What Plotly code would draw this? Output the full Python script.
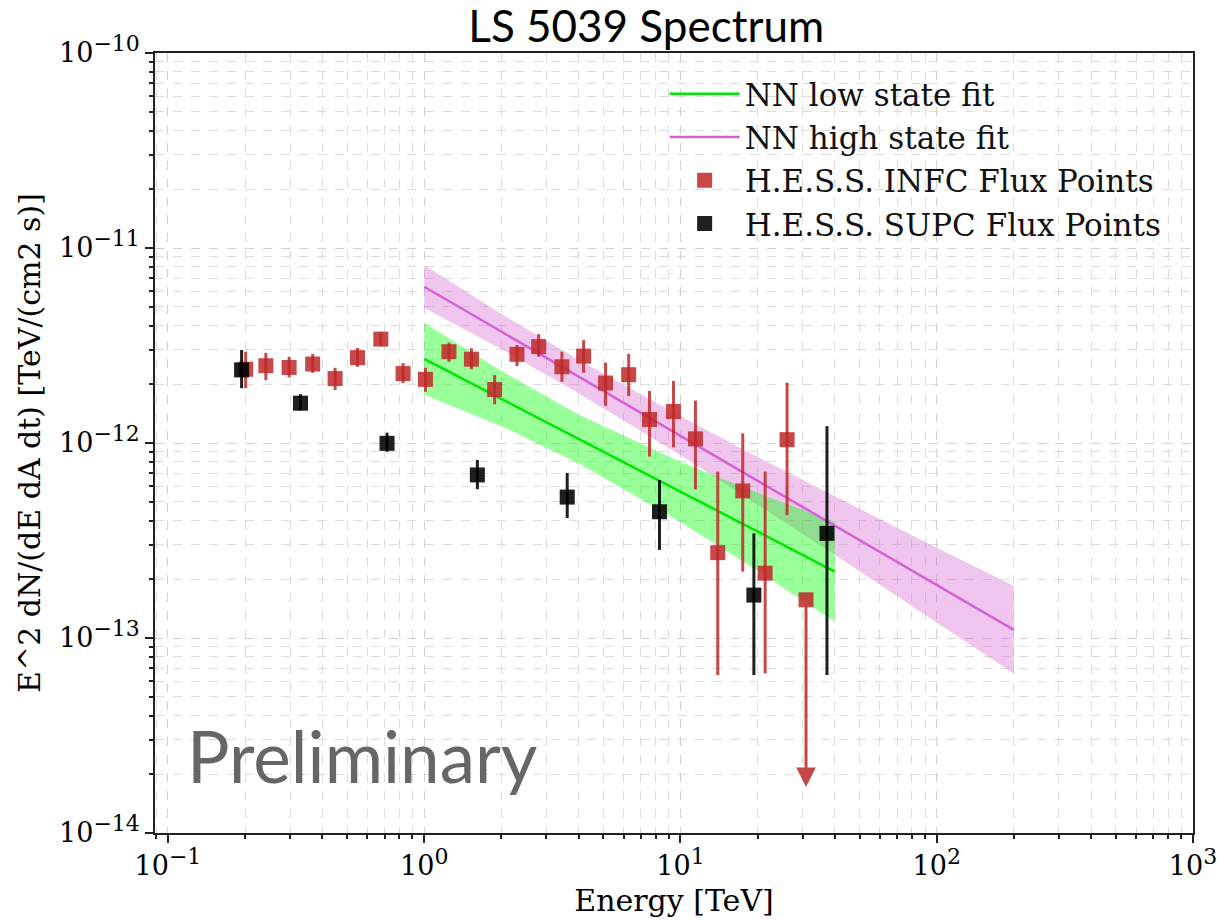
import numpy as np
import plotly.graph_objects as go

# ---------------- data ----------------
# H.E.S.S. INFC flux points (energy TeV, E^2 dN/dE, upper/lower error edges)
infc_E = [0.201, 0.241, 0.297, 0.367, 0.449, 0.549, 0.677, 0.827, 1.011, 1.249,
          1.528, 1.883, 2.301, 2.796, 3.446, 4.188, 5.10, 6.28, 7.57, 9.39,
          11.44, 13.98, 17.5, 21.4, 26.06]
infc_F = [2.39e-12, 2.49e-12, 2.44e-12, 2.54e-12, 2.14e-12, 2.74e-12, 3.41e-12, 2.27e-12,
          2.12e-12, 2.94e-12, 2.69e-12, 1.88e-12, 2.85e-12, 3.12e-12, 2.46e-12, 2.79e-12,
          2.03e-12, 2.24e-12, 1.32e-12, 1.45e-12, 1.05e-12, 2.74e-13, 5.68e-13, 2.15e-13,
          1.04e-12]
infc_hi = [2.94e-12, 2.90e-12, 2.77e-12, 2.86e-12, 2.43e-12, 3.07e-12, 3.68e-12, 2.57e-12,
           2.43e-12, 3.27e-12, 3.06e-12, 2.23e-12, 3.18e-12, 3.62e-12, 2.94e-12, 3.37e-12,
           2.58e-12, 2.86e-12, 1.85e-12, 2.08e-12, 1.65e-12, 7.13e-13, 1.12e-12, 7.13e-13,
           2.04e-12]
infc_lo = [1.91e-12, 2.10e-12, 2.17e-12, 2.29e-12, 1.87e-12, 2.46e-12, 3.14e-12, 2.03e-12,
           1.83e-12, 2.61e-12, 2.39e-12, 1.58e-12, 2.48e-12, 2.77e-12, 2.06e-12, 2.29e-12,
           1.55e-12, 1.74e-12, 8.53e-13, 9.50e-13, 5.78e-13, 6.46e-14, 2.19e-13, 6.59e-14,
           4.27e-13]
# INFC upper limit point
infc_ul_E = [30.9]
infc_ul_F = [1.57e-13]
infc_ul_tip = [1.72e-14]

# H.E.S.S. SUPC flux points
supc_E = [0.1938, 0.329, 0.716, 1.612, 3.614, 8.28, 19.34, 37.3]
supc_F = [2.37e-12, 1.60e-12, 9.96e-13, 6.86e-13, 5.28e-13, 4.44e-13, 1.66e-13, 3.44e-13]
supc_hi = [3.00e-12, 1.78e-12, 1.13e-12, 8.18e-13, 7.02e-13, 6.46e-13, 3.44e-13, 1.22e-12]
supc_lo = [1.91e-12, 1.47e-12, 9.02e-13, 5.80e-13, 4.12e-13, 2.83e-13, 6.46e-14, 6.46e-14]

# NN low state fit (line + band)
low_E = [1.0, 40.0]
low_F = [2.70e-12, 2.19e-13]
low_band_E = [1.0, 2.0, 4.0, 10.0, 20.0, 40.0]
low_band_up = [4.12e-12, 2.34e-12, 1.40e-12, 8.00e-13, 5.55e-13, 3.94e-13]
low_band_dn = [1.77e-12, 1.22e-12, 7.87e-13, 3.94e-13, 2.21e-13, 1.21e-13]

# NN high state fit (line + band)
high_E = [1.0, 200.0]
high_F = [6.33e-12, 1.10e-13]
high_band_E = [1.0, 2.0, 4.0, 10.0, 20.0, 40.0, 100.0, 200.0]
high_band_up = [8.17e-12, 4.59e-12, 2.67e-12, 1.37e-12, 8.47e-13, 5.32e-13, 2.90e-13, 1.85e-13]
high_band_dn = [4.92e-12, 3.03e-12, 1.80e-12, 8.67e-13, 4.83e-13, 2.67e-13, 1.20e-13, 6.55e-14]

# ticks
SUP = "<sup><span style='font-size:22px'>{}</span></sup>"
x_tick_vals = [0.1, 1, 10, 100, 1000]
x_tick_text = ["10" + SUP.format(s) for s in ["\u22121", "0", "1", "2", "3"]]
y_tick_vals = [1e-14, 1e-13, 1e-12, 1e-11, 1e-10]
y_tick_text = ["10" + SUP.format(s) for s in ["\u221214", "\u221213", "\u221212", "\u221211", "\u221210"]]

# ---------------- styles ----------------
GREEN = "#00e600"
GREEN_BAND = "rgba(0,255,0,0.40)"
PINK = "#d660d6"
PINK_BAND = "rgba(218,112,214,0.40)"
RED = "rgba(190,40,40,0.85)"
BLACK = "rgba(0,0,0,0.88)"
SERIF = "DejaVu Serif"

fig = go.Figure()

# bands
fig.add_trace(go.Scatter(
    x=high_band_E + high_band_E[::-1], y=high_band_up + high_band_dn[::-1],
    fill="toself", fillcolor=PINK_BAND, line=dict(width=0), mode="lines",
    showlegend=False, hoverinfo="skip"))
fig.add_trace(go.Scatter(
    x=low_band_E + low_band_E[::-1], y=low_band_up + low_band_dn[::-1],
    fill="toself", fillcolor=GREEN_BAND, line=dict(width=0), mode="lines",
    showlegend=False, hoverinfo="skip"))

# fit lines
fig.add_trace(go.Scatter(x=low_E, y=low_F, mode="lines", name="NN low state fit",
                         line=dict(color=GREEN, width=2.5), legendgroup="a"))
fig.add_trace(go.Scatter(x=high_E, y=high_F, mode="lines", name="NN high state fit",
                         line=dict(color=PINK, width=2.5), legendgroup="b"))

# INFC points
infc_F_a = np.array(infc_F)
fig.add_trace(go.Scatter(
    x=infc_E, y=infc_F, mode="markers", name="H.E.S.S. INFC Flux Points",
    marker=dict(symbol="square", size=15, color=RED, line=dict(width=0)),
    error_y=dict(type="data", symmetric=False,
                 array=list(np.array(infc_hi) - infc_F_a),
                 arrayminus=list(infc_F_a - np.array(infc_lo)),
                 color=RED, thickness=3, width=0),
    legendgroup="c"))
fig.add_trace(go.Scatter(
    x=infc_ul_E, y=infc_ul_F, mode="markers", showlegend=False,
    marker=dict(symbol="square", size=15, color=RED, line=dict(width=0))))

# SUPC points
supc_F_a = np.array(supc_F)
fig.add_trace(go.Scatter(
    x=supc_E, y=supc_F, mode="markers", name="H.E.S.S. SUPC Flux Points",
    marker=dict(symbol="square", size=15, color=BLACK, line=dict(width=0)),
    error_y=dict(type="data", symmetric=False,
                 array=list(np.array(supc_hi) - supc_F_a),
                 arrayminus=list(supc_F_a - np.array(supc_lo)),
                 color=BLACK, thickness=3, width=0),
    legendgroup="d"))

# upper-limit arrow
for e, f, t in zip(infc_ul_E, infc_ul_F, infc_ul_tip):
    fig.add_annotation(x=np.log10(e), y=np.log10(t), ax=np.log10(e), ay=np.log10(f),
                       xref="x", yref="y", axref="x", ayref="y", text="",
                       showarrow=True, arrowhead=2, arrowsize=1.3, arrowwidth=3,
                       arrowcolor="rgb(200,70,70)", standoff=0, startstandoff=0)

# Preliminary watermark
fig.add_annotation(x=0.029, y=0.099, xref="paper", yref="paper", xanchor="left",
                   yanchor="middle", text="Preliminary", showarrow=False,
                   font=dict(family="Lato", size=71, color="#666666"))

minor_x = [k * 10.0 ** n for n in range(-2, 3) for k in range(2, 10)]
minor_x = [v for v in minor_x if 0.089 <= v <= 1000]
minor_y = [k * 10.0 ** n for n in range(-14, -10) for k in range(2, 10)]

axis_common = dict(
    type="log", showline=True, linecolor="#222222", linewidth=1.5, mirror=True,
    ticks="outside", ticklen=8, tickwidth=1.5, tickcolor="#222222",
    showgrid=True, griddash="dash", gridcolor="#d0d0d0", gridwidth=1,
    zeroline=False, tickmode="array", ticklabeloverflow="allow",
    tickfont=dict(family=SERIF, size=27, color="black"),
)

fig.update_xaxes(**axis_common, range=[np.log10(0.089), 3.0001],
                 tickvals=x_tick_vals, ticktext=x_tick_text,
                 minor=dict(tickmode="array", tickvals=minor_x, ticks="outside", ticklen=4,
                            tickcolor="#222222", showgrid=True, griddash="dash",
                            gridcolor="#dcdcdc", gridwidth=1),
                 title=dict(text="Energy [TeV]", font=dict(family=SERIF, size=30, color="black"),
                            standoff=10))
fig.update_yaxes(**axis_common, range=[-14, -10],
                 tickvals=y_tick_vals, ticktext=y_tick_text,
                 minor=dict(tickmode="array", tickvals=minor_y, ticks="outside", ticklen=4,
                            tickcolor="#222222", showgrid=True, griddash="dash",
                            gridcolor="#dcdcdc", gridwidth=1),
                 title=dict(text="E^2 dN/(dE dA dt) [TeV/(cm2 s)]",
                            font=dict(family=SERIF, size=30, color="black"), standoff=10))

fig.update_layout(
    width=1217, height=921,
    margin=dict(l=155, r=24, t=53, b=88, autoexpand=False),
    paper_bgcolor="white", plot_bgcolor="white",
    title=dict(text="LS 5039 Spectrum", x=0.531, xref="container", xanchor="center",
               y=0.971, yref="container", yanchor="middle",
               font=dict(family="Lato", size=44, color="black")),
    legend=dict(x=0.491, y=0.982, xanchor="left", yanchor="top", bgcolor="rgba(0,0,0,0)",
                font=dict(family=SERIF, size=31, color="#111111"),
                tracegroupgap=0, itemwidth=70, borderwidth=0),
    showlegend=True,
)

fig.write_html("out.html")
